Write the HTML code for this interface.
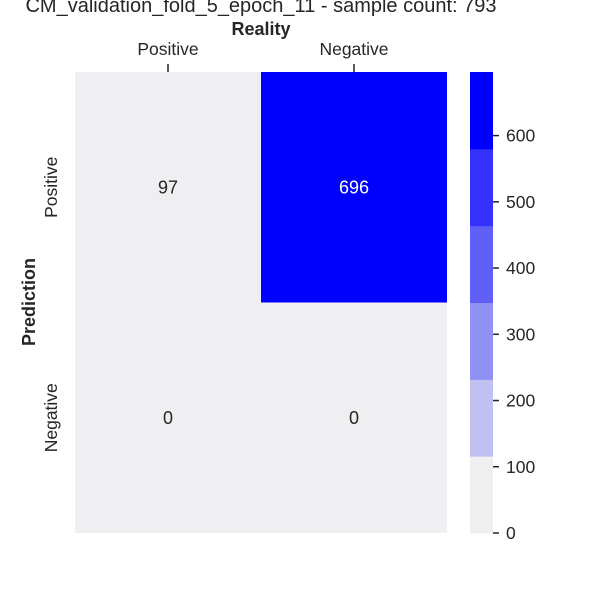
<!DOCTYPE html>
<html><head><meta charset="utf-8"><style>
body{margin:0;background:#fff;font-family:"Liberation Sans",Arial,sans-serif;}
svg text{font-family:"Liberation Sans",Arial,sans-serif;fill:#262626;}
</style></head><body>
<svg width="600" height="600" xmlns="http://www.w3.org/2000/svg">
<text x="261" y="12" font-size="20" text-anchor="middle">CM_validation_fold_5_epoch_11 - sample count: 793</text>
<text x="261" y="35" font-size="18" font-weight="bold" text-anchor="middle">Reality</text>
<text transform="translate(35,302) rotate(-90)" font-size="18" font-weight="bold" text-anchor="middle">Prediction</text>
<g id="cells"></g>
<g id="cbar"></g>
</svg>
<script>
const xLabels=["Positive","Negative"];
const yLabels=["Positive","Negative"];
const row0=[97,696];
const row1=[0,0];
const cbTicks=[0,100,200,300,400,500,600];
const vmax=696;
const nBins=6;
const binColors=["#efeff2","#c0c0f3","#9090f5","#6060f8","#3232fb","#0000ff"];
const NS="http://www.w3.org/2000/svg";
const svg=document.querySelector("svg");
const L=75,T=72,W=372,H=461;
const cw=W/xLabels.length, ch=H/yLabels.length;
function colorFor(v){let i=Math.floor(v/vmax*nBins);if(i>=nBins)i=nBins-1;if(i<0)i=0;return binColors[i];}
function mk(tag,attrs){const e=document.createElementNS(NS,tag);for(const k in attrs)e.setAttribute(k,attrs[k]);return e;}
const cells=document.getElementById("cells");
[row0,row1].forEach((row,r)=>{row.forEach((v,c)=>{
 const rect=mk("rect",{x:L+c*cw,y:T+r*ch,width:cw,height:ch,fill:colorFor(v)});
 
 
 cells.appendChild(rect);
 const t=mk("text",{x:L+(c+0.5)*cw,y:T+(r+0.5)*ch+6,"font-size":18,"text-anchor":"middle"});
 t.textContent=v;
 if(v>vmax*0.5)t.style.fill="#fff";
 
 
 cells.appendChild(t);
});});
xLabels.forEach((lab,c)=>{
 const x=L+(c+0.5)*cw;
 const tk=mk("line",{x1:x,x2:x,y1:T-8,y2:T,stroke:"#262626","stroke-width":1.5});
 
 
 svg.appendChild(tk);
 const t=mk("text",{x:x,y:T-17,"font-size":17.5,"text-anchor":"middle"});t.textContent=lab;
 
 
 svg.appendChild(t);
});
yLabels.forEach((lab,r)=>{
 const y=T+(r+0.5)*ch;
 const t=mk("text",{transform:`translate(57,${y}) rotate(-90)`,"font-size":17.5,"text-anchor":"middle"});t.textContent=lab;
 
 
 svg.appendChild(t);
});
const cb=document.getElementById("cbar");
const CX=470,CW=23;
function cy(v){return T+H-v/vmax*H;}
for(let i=0;i<nBins;i++){
 const y1=cy((i+1)*vmax/nBins),y0=cy(i*vmax/nBins);
 const r=mk("rect",{x:CX,y:y1,width:CW,height:y0-y1+0.5,fill:binColors[i]});
 
 
 cb.appendChild(r);
}
cbTicks.forEach(v=>{
 const y=cy(v);
 const l=mk("line",{x1:CX+CW,x2:CX+CW+6,y1:y,y2:y,stroke:"#262626","stroke-width":1.5});
 
 
 cb.appendChild(l);
 const t=mk("text",{x:CX+CW+13,y:y+6,"font-size":17.5});t.textContent=v;
 
 
 cb.appendChild(t);
});
</script>
</body></html>
